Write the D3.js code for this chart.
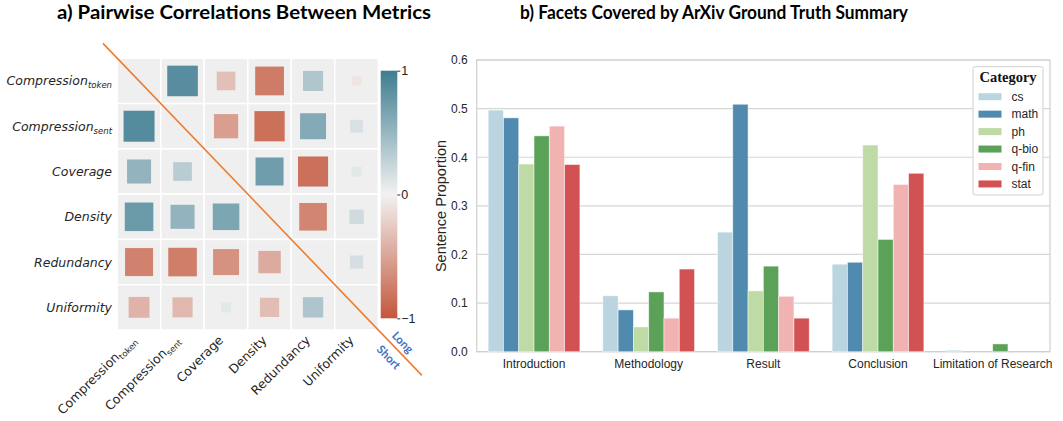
<!DOCTYPE html>
<html><head><meta charset="utf-8">
<script src="https://cdn.jsdelivr.net/npm/d3@7"></script>
<style>body{margin:0;background:#fff}svg{display:block}</style>
</head><body><svg id="c" width="1063" height="421"></svg>
<script>
// ---------- Data: panel a ----------
const metricNames = ["Compression","Compression","Coverage","Density","Redundancy","Uniformity"];
const metricSubs  = ["token","sent","","","",""];
const corrRow0 = [null, 0.86, -0.32, -0.76, 0.37, -0.08];
const corrRow1 = [0.88, null, -0.54, -0.84, 0.62, 0.15];
const corrRow2 = [0.53, 0.32, null, 0.72, -0.83, 0.09];
const corrRow3 = [0.75, 0.53, 0.65, null, -0.70, 0.19];
const corrRow4 = [-0.72, -0.75, -0.62, -0.46, null, 0.16];
const corrRow5 = [-0.40, -0.37, 0.09, -0.34, 0.38, null];
const corrRows = [corrRow0, corrRow1, corrRow2, corrRow3, corrRow4, corrRow5];
const colorbarTicks = [1, 0, -1];

// ---------- Data: panel b ----------
const facets = ["Introduction","Methodology","Result","Conclusion","Limitation of Research"];
const categories = ["cs","math","ph","q-bio","q-fin","stat"];
const csVals   = [0.497, 0.115, 0.246, 0.180, 0.003];
const mathVals = [0.481, 0.086, 0.509, 0.184, 0.000];
const phVals   = [0.386, 0.051, 0.125, 0.425, 0.000];
const qbioVals = [0.444, 0.123, 0.176, 0.231, 0.016];
const qfinVals = [0.464, 0.069, 0.114, 0.344, 0.000];
const statVals = [0.385, 0.170, 0.069, 0.367, 0.000];
const seriesVals = [csVals, mathVals, phVals, qbioVals, qfinVals, statVals];
const yTicks = [0, 0.1, 0.2, 0.3, 0.4, 0.5, 0.6];
const catColors = ["#bad4e0","#508aaf","#bedaa5","#5ca158","#f1b3b2","#d25153"];

const svg = d3.select("#c");
svg.append("rect").attr("width",1063).attr("height",421).attr("fill","#fff");

// ================= Panel a =================
const titleFont = "Lato, 'Open Sans', sans-serif";
svg.append("text").attr("x",244).attr("y",19).attr("text-anchor","middle")
  .attr("font-family",titleFont).attr("font-weight","bold").attr("font-size",19)
  .attr("textLength",374).attr("lengthAdjust","spacingAndGlyphs")
  .text("a) Pairwise Correlations Between Metrics");

const hx = d3.scaleBand().domain(d3.range(6)).range([117.3,378.3]).padding(0);
const hy = d3.scaleBand().domain(d3.range(6)).range([58.3,330]).padding(0);
const cscale = d3.scaleLinear().domain([-1,0,1]).range(["#c3573c","#f2f1f1","#3e7d91"]);
const side = v => 33*Math.sqrt(Math.abs(v));

const gH = svg.append("g");
// background cells
corrRows.forEach((row,i)=>{
  row.forEach((v,j)=>{
    gH.append("rect").attr("x",hx(j)).attr("y",hy(i)).attr("width",hx.bandwidth()).attr("height",hy.bandwidth())
      .attr("fill","#efefef").attr("stroke","#fff").attr("stroke-width",1.5);
  });
});
corrRows.forEach((row,i)=>{
  row.forEach((v,j)=>{
    if(v===null) return;
    const s = side(v), cx = hx(j)+hx.bandwidth()/2, cy = hy(i)+hy.bandwidth()/2;
    gH.append("rect").attr("x",cx-s/2).attr("y",cy-s/2).attr("width",s).attr("height",s)
      .attr("fill",cscale(v));
  });
});

// y labels
const labFont = "'DejaVu Sans', sans-serif";
metricNames.forEach((n,i)=>{
  const t = gH.append("text").attr("x",112).attr("y",hy(i)+hy.bandwidth()/2+4.5)
    .attr("text-anchor","end").attr("font-family",labFont).attr("font-style","italic")
    .attr("font-size",12.5).attr("fill","#262626");
  t.append("tspan").text(n);
  if(metricSubs[i]) t.append("tspan").attr("font-size",8.5).attr("dy",3).text(metricSubs[i]);
});
// x labels
metricNames.forEach((n,j)=>{
  const cx = hx(j)+hx.bandwidth()/2;
  const t = gH.append("text").attr("transform",`translate(${cx-2},${341}) rotate(-45)`)
    .attr("text-anchor","end").attr("font-family",labFont).attr("font-size",12.5).attr("fill","#262626");
  t.append("tspan").text(n);
  if(metricSubs[j]) t.append("tspan").attr("font-size",8.5).attr("dy",3).text(metricSubs[j]);
});

// colorbar
const defs = svg.append("defs");
const grad = defs.append("linearGradient").attr("id","cb").attr("x1",0).attr("y1",1).attr("x2",0).attr("y2",0);
d3.range(0,1.0001,0.1).forEach(p=>{
  grad.append("stop").attr("offset",p).attr("stop-color",cscale(-1+2*p));
});
const cbY = d3.scaleLinear().domain([-1,1]).range([318.3,70.7]);
svg.append("rect").attr("x",380.7).attr("y",cbY(1)).attr("width",16.6).attr("height",cbY(-1)-cbY(1)).attr("fill","url(#cb)");
const cbAxis = d3.axisRight(cbY).tickValues(colorbarTicks).tickSize(3).tickFormat(d=>d===-1?"\u22121":String(d));
const cbG = svg.append("g").attr("transform","translate(397.3,0)").call(cbAxis);
cbG.select(".domain").remove();
cbG.selectAll("text").attr("font-family","'Liberation Sans', Arial, sans-serif").attr("font-size",12.5).attr("fill","#222").attr("x",4);
cbG.selectAll("line").attr("stroke","#333");

// diagonal line
const x0 = 117.3, y0 = 58.3, x1 = 378.3, y1 = 330;
const tA = -0.055, tB = 1.167;
svg.append("line").attr("x1",x0+(x1-x0)*tA).attr("y1",y0+(y1-y0)*tA)
  .attr("x2",x0+(x1-x0)*tB).attr("y2",y0+(y1-y0)*tB)
  .attr("stroke","#ed7d31").attr("stroke-width",1.6);
svg.append("text").attr("transform","translate(403,342) rotate(46)").attr("text-anchor","middle")
  .attr("dominant-baseline","central").attr("font-family",titleFont).attr("font-weight","bold")
  .attr("font-size",11.5).attr("fill","#4472c4").text("Long");
svg.append("text").attr("transform","translate(389,357) rotate(46)").attr("text-anchor","middle")
  .attr("dominant-baseline","central").attr("font-family",titleFont).attr("font-weight","bold")
  .attr("font-size",11.5).attr("fill","#4472c4").text("Short");

// ================= Panel b =================
svg.append("text").attr("x",714).attr("y",19).attr("text-anchor","middle")
  .attr("font-family",titleFont).attr("font-weight","bold").attr("font-size",19)
  .attr("textLength",388).attr("lengthAdjust","spacingAndGlyphs")
  .text("b) Facets Covered by ArXiv Ground Truth Summary");

const L = 476.7, R = 1050, T = 60, B = 351.7;
const bx = d3.scaleBand().domain(facets).range([L,R]).paddingInner(0.2).paddingOuter(0.1);
const bxi = d3.scaleBand().domain(categories).range([0,bx.bandwidth()]).padding(0);
const by = d3.scaleLinear().domain([0,0.6]).range([B,T]);
const gB = svg.append("g");
const axFont = "'Liberation Sans', Arial, sans-serif";

// grid
yTicks.forEach(t=>{
  gB.append("line").attr("x1",L).attr("x2",R).attr("y1",by(t)).attr("y2",by(t))
    .attr("stroke","#d6d6d6").attr("stroke-width",1.2);
});
// frame
gB.append("rect").attr("x",L).attr("y",T).attr("width",R-L).attr("height",B-T)
  .attr("fill","none").attr("stroke","#cfcfcf").attr("stroke-width",1.2);

// bars
categories.forEach((c,k)=>{
  seriesVals[k].forEach((v,f)=>{
    gB.append("rect").attr("x",bx(facets[f])+bxi(c)).attr("y",by(v))
      .attr("width",bxi.bandwidth()).attr("height",by(0)-by(v))
      .attr("fill",catColors[k]).attr("stroke","#fff").attr("stroke-opacity",0.6).attr("stroke-width",0.8);
  });
});

// y axis
const yAx = d3.axisLeft(by).tickValues(yTicks).tickSize(0).tickPadding(9).tickFormat(d3.format(".1f"));
const yG = gB.append("g").attr("transform",`translate(${L},0)`).call(yAx);
yG.select(".domain").remove();
yG.selectAll("text").attr("font-family",axFont).attr("font-size",12).attr("fill","#262626");
// x axis
const xAx = d3.axisBottom(bx).tickSize(0).tickPadding(8);
const xG = gB.append("g").attr("transform",`translate(0,${B})`).call(xAx);
xG.select(".domain").remove();
xG.selectAll("text").attr("font-family",axFont).attr("font-size",12).attr("fill","#262626");
// y label
gB.append("text").attr("transform",`translate(446,206) rotate(-90)`).attr("text-anchor","middle")
  .attr("font-family",axFont).attr("font-size",14.5).attr("fill","#262626").text("Sentence Proportion");

// legend
const lg = gB.append("g");
lg.append("rect").attr("x",973).attr("y",66.7).attr("width",70).attr("height",128.3)
  .attr("rx",2).attr("fill","#fff").attr("fill-opacity",0.9).attr("stroke","#d0d0d0").attr("stroke-width",1);
lg.append("text").attr("x",1008).attr("y",82).attr("text-anchor","middle")
  .attr("font-family","'Liberation Serif', 'DejaVu Serif', serif").attr("font-weight","bold")
  .attr("font-size",14.5).attr("fill","#111").text("Category");
categories.forEach((c,k)=>{
  const yy = 96.7 + k*17.45;
  lg.append("rect").attr("x",978.5).attr("y",yy-3.5).attr("width",23).attr("height",7).attr("fill",catColors[k]);
  lg.append("text").attr("x",1011.5).attr("y",yy+4.2).attr("font-family",axFont).attr("font-size",12)
    .attr("fill","#262626").text(c);
});
</script></body></html>
